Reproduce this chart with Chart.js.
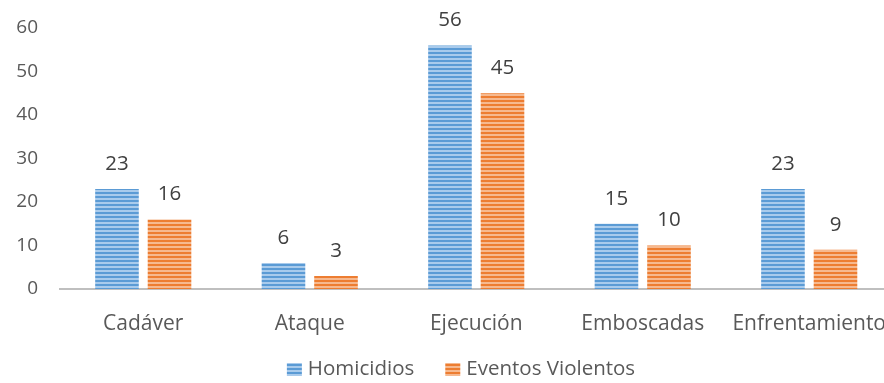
<!DOCTYPE html>
<html>
<head>
<meta charset="utf-8">
<script src="https://cdn.jsdelivr.net/npm/chart.js@4"></script>
<style>
  html, body { margin: 0; padding: 0; background: #fff; overflow: hidden; }
  #wrap { width: 884px; height: 383px; overflow: hidden; }
  #box { width: 900px; height: 383px; }
</style>
</head>
<body>
<div id="wrap"><div id="box"><canvas id="chart"></canvas></div></div>
<script>
const categories = ["Cadáver", "Ataque", "Ejecución", "Emboscadas", "Enfrentamiento"];
const homicidios = [23, 6, 56, 15, 23];
const eventos = [16, 3, 45, 10, 9];
const yTicks = [0, 10, 20, 30, 40, 50, 60];

const FONT = "'Open Sans', 'Noto Sans', sans-serif";
const LEGEND_CENTER = 461;

// horizontal striped fill, dark band then light band
function stripes(dark, light) {
  const c = document.createElement("canvas");
  c.width = 4;
  c.height = 4;
  const g = c.getContext("2d");
  g.fillStyle = light;
  g.fillRect(0, 0, 4, 4);
  g.fillStyle = dark;
  g.fillRect(0, 0, 4, 2);
  return g.createPattern(c, "repeat");
}

const valueLabels = {
  id: "valueLabels",
  afterDatasetsDraw(chart) {
    const ctx = chart.ctx;
    ctx.save();
    ctx.fillStyle = "#404040";
    ctx.font = `20.5px ${FONT}`;
    ctx.textAlign = "center";
    ctx.textBaseline = "middle";
    chart.data.datasets.forEach((ds, i) => {
      chart.getDatasetMeta(i).data.forEach((bar, j) => {
        ctx.fillText(String(ds.data[j]), bar.x, bar.y - 25);
      });
    });
    ctx.restore();
  },
};

// legend row under the axis: small swatch, label, wide gap between items
const bottomLegend = {
  id: "bottomLegend",
  afterDraw(chart) {
    const ctx = chart.ctx;
    const ds = chart.data.datasets;
    ctx.save();
    ctx.font = `20.5px ${FONT}`;
    ctx.textBaseline = "middle";
    const box = 15, gap = 6, between = 31;
    const widths = ds.map((d) => box + gap + ctx.measureText(d.label).width);
    const total = widths.reduce((a, b) => a + b, 0) + between * (ds.length - 1);
    let x = LEGEND_CENTER - total / 2;
    const y = 369.5;
    ds.forEach((d, i) => {
      ctx.fillStyle = d.backgroundColor;
      ctx.fillRect(x, y - 6.5, box, 13);
      ctx.fillStyle = "#595959";
      ctx.fillText(d.label, x + box + gap, y);
      x += widths[i] + between;
    });
    ctx.restore();
  },
};

new Chart(document.getElementById("chart"), {
  type: "bar",
  data: {
    labels: categories,
    datasets: [
      { label: "Homicidios", data: homicidios, backgroundColor: stripes("#5b9bd5", "#a9cbec") },
      { label: "Eventos Violentos", data: eventos, backgroundColor: stripes("#ed7d31", "#f6b98f") },
    ],
  },
  options: {
    responsive: true,
    maintainAspectRatio: false,
    animation: false,
    categoryPercentage: 0.631,
    barPercentage: 0.83,
    layout: { padding: { top: 28, right: 0, left: 0, bottom: 44 } },
    plugins: {
      tooltip: { enabled: false },
      legend: { display: false },
    },
    scales: {
      x: {
        grid: { display: false },
        border: { color: "#bfbfbf", width: 2 },
        ticks: { color: "#595959", font: { family: FONT, size: 21 }, padding: 14, maxRotation: 0, autoSkip: false },
        afterFit(scale) { scale.height = 50; },
      },
      y: {
        min: 0,
        max: 60,
        afterBuildTicks(scale) { scale.ticks = yTicks.map((v) => ({ value: v })); },
        grid: { display: false, drawTicks: false },
        border: { display: false },
        ticks: { color: "#595959", font: { family: FONT, size: 19 }, padding: 22 },
        afterFit(scale) {
          scale.width = 60;
          scale.paddingTop = 0;
          scale.paddingBottom = 0;
        },
      },
    },
  },
  plugins: [valueLabels, bottomLegend],
});
</script>
</body>
</html>
